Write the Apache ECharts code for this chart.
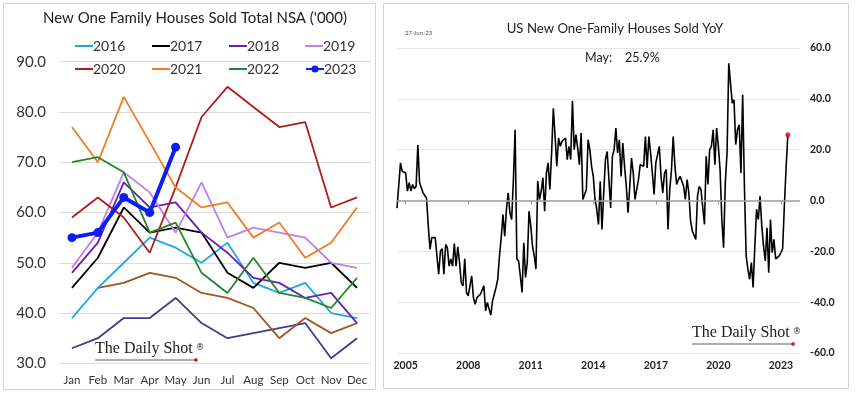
<!DOCTYPE html>
<html>
<head>
<meta charset="utf-8">
<script src="https://cdn.jsdelivr.net/npm/echarts@6/dist/echarts.min.js"></script>
<style>
  html, body { margin: 0; padding: 0; background: #fff; }
  #main { width: 857px; height: 398px; }
</style>
</head>
<body>
<div id="main"></div>
<script>
// ---- left panel: monthly sales by year ('000, NSA)
const months = ["Jan", "Feb", "Mar", "Apr", "May", "Jun", "Jul", "Aug", "Sep", "Oct", "Nov", "Dec"];
const s2016 = [39, 45, 50, 55, 53, 50, 54, 46, 44, 46, 40, 39];
const s2017 = [45, 51, 61, 56, 57, 56, 48, 45, 50, 49, 50, 45];
const s2018 = [48, 54, 66, 61, 62, 56, 52, 47, 46, 43, 44, 38];
const s2019 = [49, 56, 68, 64, 56, 66, 55, 57, 56, 55, 50, 49];
const s2020 = [59, 63, 59, 52, 65, 79, 85, 81, 77, 78, 61, 63];
const s2021 = [77, 70, 83, 74, 65, 61, 62, 55, 58, 51, 54, 61];
const s2022 = [70, 71, 68, 56, 58, 48, 44, 51, 44, 43, 41, 47];
const s2023 = [55, 56, 63, 60, 73];
// two older years drawn without a legend entry
const sBrown = [null, 45, 46, 48, 47, 44, 43, 41, 35, 39, 36, 38];
const sNavy = [33, 35, 39, 39, 43, 38, 35, 36, 37, 38, 31, 35];
const leftTicks = [30, 40, 50, 60, 70, 80, 90];

// ---- right panel: YoY %, monthly from Aug 2004 to May 2023
const yoy2004 = [-3, -3, 14.8, 11.5, 11];
const yoy2005 = [10.8, 3.7, 7, 3.7, 6.3, 4.6, 5.6, 21.8, 7, 5, 3, 3.7];
const yoy2006 = [1, -10, -19.2, -14.6, -14, -14.6, -15.3, -29, -19.9, -19, -29, -17.3];
const yoy2007 = [-18.6, -25.8, -23, -25.8, -16.9, -25.8, -18.2, -24.4, -32.3, -33.6, -22.9, -36.2];
const yoy2008 = [-37.5, -33.6, -29.7, -38.2, -40.8, -38.2, -38.2, -36.9, -36.2, -33.6, -43.4, -40.1];
const yoy2009 = [-40.8, -45.1, -39.5, -36.9, -34.2, -31, -21.8, -14.6, -5.5, -14, -3.5, 3];
const yoy2010 = [-4.8, -7.5, 8, 27.8, -23, -23.8, -29.7, -36.2, -16.6, -30.3, -24.4, -4.2];
const yoy2011 = [-10, -17.9, -21.8, -27, 7.6, 0.4, 3.7, 8.9, -4.2, 10.8, 14.8, 4.3];
const yoy2012 = [18.7, 36.3, 25.2, 13.5, 24.6, 21.3, 23.3, 23.9, 24.6, 16.1, 21.3, 16.1];
const yoy2013 = [39.2, 20, 25.9, 20.7, 14.1, 26.5, 0.4, 0.4, 4.3, 23.9, 20, 13.5];
const yoy2014 = [9.5, 0.4, -3.5, -9.4, 7.6, -11.4, 3, 16.1, 19.3, 8.2, -2.9, 17.4];
const yoy2015 = [20, 28.5, 18.7, 23.9, 9.5, 22.6, 13.5, 5.6, -4.8, 5.6, 16.7, 10.8];
const yoy2016 = [0.4, 0.4, 8.2, 14.1, 13.5, 13.5, 25.2, 12.8, 25.2, 18.7, 10.8, 2.4];
const yoy2017 = [14.8, 15.4, 21.3, 9.5, 3, 10.8, 12.2, -11.4, 4.3, 12, 25.2, 13.5];
const yoy2018 = [6.3, 8.2, 9.5, 8.9, 5.6, 0.4, 8.2, 3, -8, -12, -12.7, -15.3];
const yoy2019 = [1.7, 5.6, 4.3, 5, -9.4, 17.4, 6.3, 20, 21.3, 27.8, 14.1, 28.5];
const yoy2020 = [21.3, 12, -7.5, -18.6, 6.9, 18.7, 54, 46.1, 38.3, 39.6, 22, 27.8];
const yoy2021 = [29.8, 10.8, 41.6, 5.6, -21.8, -27, -31, -24.4, -34.2, -17.9, -3.5, -7.5];
const yoy2022 = [1.7, -10, -17.9, -23.8, -10.7, -28.4, -7.5, -20.5, -15.3, -23, -22.5, -21.8];
const yoy2023 = [-20.5, -19, -2, 13, 25.9];
const rightTicks = [-60, -40, -20, 0, 20, 40, 60];

const yoy = [].concat(yoy2004, yoy2005, yoy2006, yoy2007, yoy2008, yoy2009, yoy2010,
  yoy2011, yoy2012, yoy2013, yoy2014, yoy2015, yoy2016, yoy2017, yoy2018, yoy2019,
  yoy2020, yoy2021, yoy2022, yoy2023);

// month labels Aug 2004 .. Dec 2023 (axis runs past the last point)
const monthCats = [];
for (let y = 2004; y <= 2023; y++) {
  for (let m = 1; m <= 12; m++) {
    if (y === 2004 && m < 8) continue;
    monthCats.push(y + "-" + String(m).padStart(2, "0"));
  }
}
const lastIdx = yoy.length - 1;

function yearTick(i, v) {
  const [y, m] = v.split("-");
  return m === "01" && (Number(y) - 2005) % 3 === 0;
}

const font = "Lato";
const chart = echarts.init(document.getElementById("main"));

function yearLine(name, data, color, width) {
  return {
    name: name, type: "line", data: data, xAxisIndex: 0, yAxisIndex: 0,
    symbol: "none", lineStyle: { color: color, width: width || 1.8 },
    itemStyle: { color: color }
  };
}

const legendPos = [
  ["2016", 75, 39], ["2017", 152, 39], ["2018", 229, 39], ["2019", 305, 39],
  ["2020", 75, 62], ["2021", 152, 62], ["2022", 229, 62], ["2023", 305, 62]
];

function watermark(x, y) {
  return [
    { type: "text", x: x, y: y, style: { text: "The Daily Shot", font: "16px 'Liberation Serif'", fill: "#222", textVerticalAlign: "bottom" } },
    { type: "text", x: x + 101, y: y - 13, style: { text: "®", font: "8px 'DejaVu Sans'", fill: "#222" } },
    { type: "line", shape: { x1: x, y1: y + 3, x2: x + 101, y2: y + 3 }, style: { stroke: "#333", lineWidth: 0.8 } },
    { type: "circle", shape: { cx: x + 101, cy: y + 3, r: 1.8 }, style: { fill: "#e00000" } }
  ];
}

const option = {
  animation: false,
  grid: [
    { left: 59, right: 487, top: 61.7, bottom: 34.7 },
    { left: 397, right: 57, top: 48, bottom: 45 }
  ],
  legend: legendPos.map(([n, x, y]) => ({
    data: [n], left: x, top: y, padding: 0, itemGap: 0,
    itemWidth: 18, itemHeight: n === "2023" ? 9 : 2,
    icon: n === "2023" ? undefined : "rect",
    selectedMode: false,
    textStyle: { fontFamily: font, fontSize: 14, color: "#333", padding: [0, 0, 0, -5] }
  })),
  xAxis: [
    {
      type: "category", gridIndex: 0, data: months, boundaryGap: true,
      axisLine: { show: false }, axisTick: { show: false },
      axisLabel: { interval: 0, fontFamily: font, fontSize: 11.5, color: "#333", margin: 11 }
    },
    {
      type: "category", gridIndex: 1, data: monthCats, boundaryGap: false,
      axisLine: { show: false },
      axisTick: { show: true, interval: yearTick, length: 4, lineStyle: { color: "#999" } },
      axisLabel: {
        interval: yearTick, fontFamily: font, fontSize: 10.5, fontWeight: "bold", color: "#222", margin: 7,
        formatter: (v) => v.slice(0, 4)
      }
    }
  ],
  yAxis: [
    {
      type: "value", gridIndex: 0, min: leftTicks[0], max: leftTicks[leftTicks.length - 1], interval: 10,
      axisLine: { show: false }, axisTick: { show: false },
      axisLabel: { fontFamily: font, fontSize: 15, color: "#333", margin: 13, formatter: (v) => v.toFixed(1) },
      splitLine: { lineStyle: { color: "#dcdcdc", width: 1 } }
    },
    {
      type: "value", gridIndex: 1, position: "right", min: rightTicks[0], max: rightTicks[rightTicks.length - 1], interval: 20,
      axisLine: { show: false }, axisTick: { show: false },
      axisLabel: { fontFamily: font, fontSize: 10.5, fontWeight: "bold", color: "#222", margin: 10, formatter: (v) => v.toFixed(1) },
      splitLine: { lineStyle: { color: "#e6e6e6", width: 1 } }
    }
  ],
  series: [
    yearLine("navy", sNavy, "#3f3c8f"),
    yearLine("brown", sBrown, "#a3541f"),
    yearLine("2016", s2016, "#1fa9e1"),
    yearLine("2017", s2017, "#000000"),
    yearLine("2018", s2018, "#6a1fb3"),
    yearLine("2019", s2019, "#c27ef0"),
    yearLine("2020", s2020, "#b01c1c"),
    yearLine("2021", s2021, "#f27b24"),
    yearLine("2022", s2022, "#24852a"),
    {
      name: "2023", type: "line", data: s2023, xAxisIndex: 0, yAxisIndex: 0,
      symbol: "circle", symbolSize: 9, showSymbol: true,
      lineStyle: { color: "#0b1ff2", width: 4 }, itemStyle: { color: "#0b1ff2" }
    },
    {
      name: "YoY", type: "line", data: yoy, xAxisIndex: 1, yAxisIndex: 1,
      symbol: "none", lineStyle: { color: "#000", width: 1.6 },
      markLine: {
        silent: true, symbol: "none", label: { show: false },
        lineStyle: { color: "#a0a0a0", width: 1.5, type: "solid" },
        data: [{ yAxis: 0 }]
      },
      z: 3
    },
    {
      name: "last", type: "scatter", xAxisIndex: 1, yAxisIndex: 1,
      data: [[monthCats[lastIdx], yoy[lastIdx]]],
      symbolSize: 5, itemStyle: { color: "#e00000" }, z: 4
    }
  ],
  graphic: [
    { type: "rect", shape: { x: 3.5, y: 3.5, width: 372, height: 386 }, style: { fill: "none", stroke: "#d4d4d4", lineWidth: 1 }, silent: true },
    { type: "rect", shape: { x: 383.5, y: 3.5, width: 465, height: 385 }, style: { fill: "none", stroke: "#d4d4d4", lineWidth: 1 }, silent: true },
    { type: "text", x: 195, y: 18, style: { text: "New One Family Houses Sold Total NSA ('000)", font: "15px Lato", fill: "#222", textAlign: "center", textVerticalAlign: "middle" } },
    { type: "text", x: 615, y: 29, style: { text: "US New One-Family Houses Sold YoY", font: "13.2px Lato", fill: "#222", textAlign: "center", textVerticalAlign: "middle" } },
    { type: "text", x: 405, y: 33, style: { text: "27-Jun-23", font: "6px Lato", fill: "#555", textVerticalAlign: "middle" } },
    { type: "rect", shape: { x: 570, y: 44, width: 93, height: 8 }, style: { fill: "#fff" }, silent: true },
    { type: "text", x: 585, y: 58, style: { text: "May:", font: "12.5px Lato", fill: "#222", textVerticalAlign: "middle" } },
    { type: "text", x: 625, y: 58, style: { text: "25.9%", font: "12.5px Lato", fill: "#222", textVerticalAlign: "middle" } }
  ].concat(watermark(95, 357), watermark(692, 341))
};

chart.setOption(option);
</script>
</body>
</html>
